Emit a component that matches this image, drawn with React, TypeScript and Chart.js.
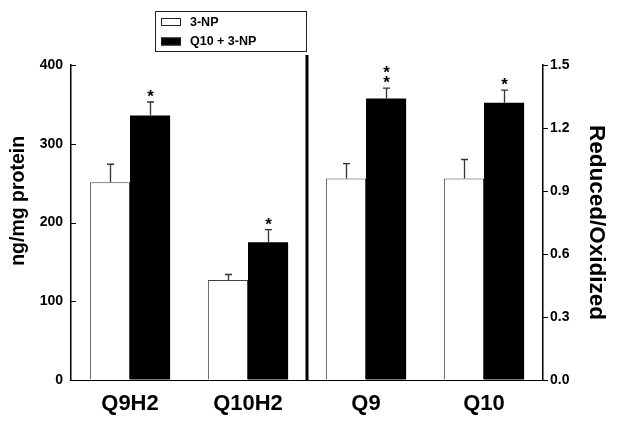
import React, { useEffect, useRef } from "react";
import { Chart, registerables } from "chart.js";

Chart.register(...registerables);

const categories = ["Q9H2", "Q10H2", "Q9", "Q10"];
const seriesNames = ["3-NP", "Q10 + 3-NP"];
// left axis (ng/mg protein) values for the reduced forms
const np3Left = [251, 127, null, null];
const q10Left = [336, 175, null, null];
// right axis (Reduced/Oxidized) values
const np3Right = [null, null, 0.96, 0.96];
const q10Right = [null, null, 1.34, 1.32];
// upper error bar sizes (in the unit of the axis each bar uses)
const np3Err = [23, 7, 0.07, 0.09];
const q10Err = [17, 16, 0.05, 0.06];
// significance marks on the Q10 + 3-NP bars
const q10Marks = ["*", "*", "**", "*"];
const leftTicks = [0, 100, 200, 300, 400];
const rightTicks = [0, 0.3, 0.6, 0.9, 1.2, 1.5];

const FONT = "'Liberation Sans', Arial, Helvetica, sans-serif";

const overlay = {
  id: "overlay",
  afterDatasetsDraw(chart: any) {
    const ctx = chart.ctx as CanvasRenderingContext2D;
    const area = chart.chartArea;
    ctx.save();
    // error bars and marks
    chart.data.datasets.forEach((ds: any, di: number) => {
      const meta = chart.getDatasetMeta(di);
      const scale = chart.scales[ds.yAxisID];
      const errs = di % 2 === 0 ? np3Err : q10Err;
      meta.data.forEach((bar: any, i: number) => {
        const v = ds.data[i];
        if (v == null) return;
        const yTop = scale.getPixelForValue(v + errs[i]);
        const x = Math.round(bar.x) + 0.5;
        ctx.strokeStyle = "#333";
        ctx.lineWidth = 1.3;
        ctx.beginPath();
        ctx.moveTo(x, bar.y);
        ctx.lineTo(x, yTop);
        ctx.moveTo(x - 3.5, yTop);
        ctx.lineTo(x + 3.5, yTop);
        ctx.stroke();
        if (di % 2 === 1) {
          const mark = q10Marks[i];
          ctx.fillStyle = "#000";
          ctx.font = "bold 17px " + FONT;
          ctx.textAlign = "center";
          ctx.textBaseline = "alphabetic";
          for (let k = 0; k < mark.length; k++) {
            const cy = yTop - 9 - k * 10.5;
            ctx.fillText("*", x, cy + 9);
          }
        }
      });
    });
    // inward ticks on left axis, outward on right axis
    const yl = chart.scales.y;
    const yr = chart.scales.y2;
    ctx.strokeStyle = "#000";
    ctx.lineWidth = 1;
    ctx.beginPath();
    leftTicks.forEach((t) => {
      const py = Math.round(yl.getPixelForValue(t)) + 0.5;
      ctx.moveTo(area.left, py);
      ctx.lineTo(area.left + 5, py);
    });
    rightTicks.forEach((t) => {
      const py = Math.round(yr.getPixelForValue(t)) + 0.5;
      ctx.moveTo(area.right, py);
      ctx.lineTo(area.right + 5, py);
    });
    ctx.stroke();
    // divider between the two panels
    const xs = chart.scales.x;
    const xd = (xs.getPixelForValue(1) + xs.getPixelForValue(2)) / 2;
    ctx.fillStyle = "#000";
    ctx.fillRect(xd - 1.5, 55, 3, area.bottom - 55);
    // legend
    ctx.strokeStyle = "#222";
    ctx.lineWidth = 1;
    ctx.strokeRect(155.5, 11.5, 151, 40);
    const fills = ["#ffffff", "#000000"];
    seriesNames.forEach((name, k) => {
      const sy = 18 + k * 19.5;
      ctx.fillStyle = fills[k];
      ctx.fillRect(161, sy, 20, 8);
      ctx.strokeStyle = "#222";
      ctx.strokeRect(161.5, sy + 0.5, 19, 7);
      ctx.fillStyle = "#000";
      ctx.font = "bold 12.5px " + FONT;
      ctx.textAlign = "left";
      ctx.textBaseline = "middle";
      ctx.fillText(name, 190, sy + 4.5);
    });
    ctx.restore();
  },
};

export default function App() {
  const ref = useRef<HTMLCanvasElement>(null);
  useEffect(() => {
    if (!ref.current) return;
    const chart = new Chart(ref.current, {
      type: "bar",
      data: {
        labels: categories,
        datasets: [
          { label: seriesNames[0], data: np3Left, yAxisID: "y", backgroundColor: "#ffffff", borderColor: "#444", borderWidth: 1 },
          { label: seriesNames[1], data: q10Left, yAxisID: "y", backgroundColor: "#000000", borderColor: "#000", borderWidth: 0 },
          { label: seriesNames[0], data: np3Right, yAxisID: "y2", backgroundColor: "#ffffff", borderColor: "#444", borderWidth: 1 },
          { label: seriesNames[1], data: q10Right, yAxisID: "y2", backgroundColor: "#000000", borderColor: "#000", borderWidth: 0 },
        ] as any,
      },
      options: {
        responsive: false,
        animation: false,
        skipNull: true,
        categoryPercentage: 0.68,
        barPercentage: 1.0,
        layout: { padding: { top: 65, left: 0, right: 0, bottom: 0 } },
        plugins: { legend: { display: false }, tooltip: { enabled: false } },
        scales: {
          x: {
            grid: { display: true, drawOnChartArea: false, drawTicks: false },
            border: { display: true, color: "#000", width: 1 },
            ticks: { color: "#000", padding: 11, font: { family: FONT, size: 22, weight: "bold" } },
            afterFit: (s: any) => { s.height = 42; },
          },
          y: {
            position: "left",
            min: 0,
            max: 400,
            afterBuildTicks: (s: any) => { s.ticks = leftTicks.map((v) => ({ value: v })); },
            grid: { display: true, drawOnChartArea: false, drawTicks: false },
            border: { display: true, color: "#000", width: 1.5 },
            ticks: { color: "#000", padding: 8, font: { family: FONT, size: 14, weight: "bold" } },
            title: { display: true, text: "        ng/mg protein", color: "#000", padding: { top: 7, bottom: 0 }, font: { family: FONT, size: 19.5, weight: "bold" } },
            afterFit: (s: any) => { s.width = 71; },
          },
          y2: {
            position: "right",
            min: 0,
            max: 1.5,
            afterBuildTicks: (s: any) => { s.ticks = rightTicks.map((v) => ({ value: v })); },
            grid: { display: true, drawOnChartArea: false, drawTicks: false },
            border: { display: true, color: "#000", width: 1.5 },
            ticks: { color: "#000", padding: 7, font: { family: FONT, size: 14, weight: "bold" }, callback: (v: any) => Number(v).toFixed(1) },
            title: { display: true, text: "Reduced/Oxidized", color: "#000", padding: { top: 8, bottom: 0 }, font: { family: FONT, size: 22.5, weight: "bold" } },
            afterFit: (s: any) => { s.width = 75; },
          },
        },
      } as any,
      plugins: [overlay],
    });
    return () => chart.destroy();
  }, []);
  return (
    <div style={{ position: "fixed", left: 0, top: 0, width: 618, height: 422, background: "#fff" }}>
      <canvas ref={ref} width={618} height={422} style={{ display: "block" }} />
    </div>
  );
}
